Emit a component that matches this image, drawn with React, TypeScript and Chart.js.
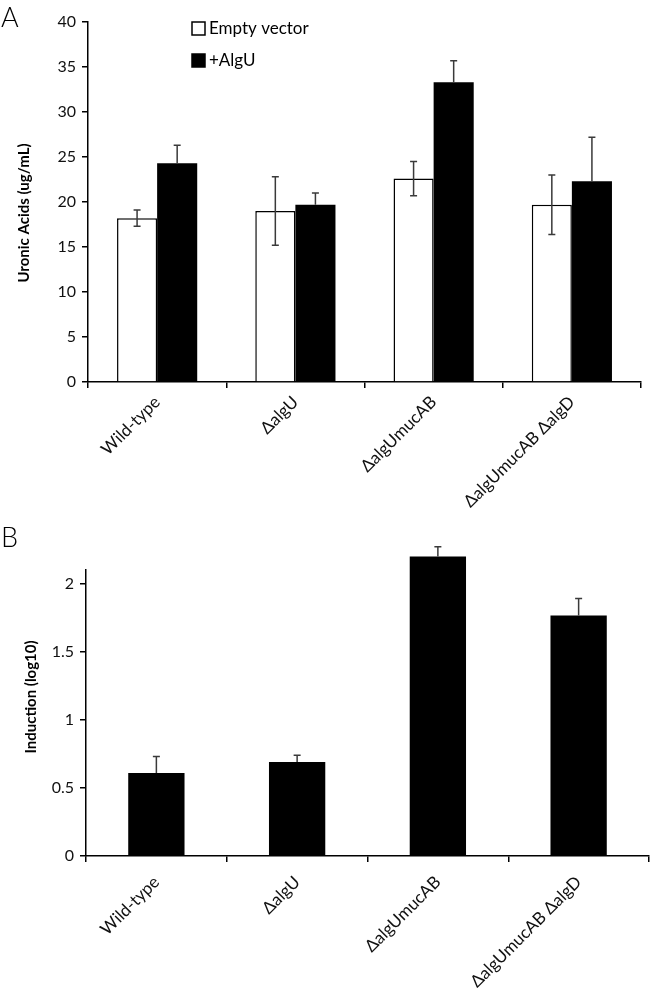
import React, { useEffect, useRef } from 'react';
import { Chart, registerables } from 'chart.js';

Chart.register(...registerables);

// ---------- data ----------
const strains = ['Wild-type', 'ΔalgU', 'ΔalgUmucAB', 'ΔalgUmucAB ΔalgD'];

const emptyVector = [18.2, 19.0, 22.6, 19.7];
const emptyVectorErr = [0.9, 3.8, 1.9, 3.3];
const plusAlgU = [24.3, 19.7, 33.3, 22.3];
const plusAlgUErr = [2.0, 1.3, 2.4, 4.9];

const induction = [0.61, 0.69, 2.2, 1.765];
const inductionErr = [0.12, 0.05, 0.07, 0.125];

const FONT = 'Lato, "Open Sans", sans-serif';

// ---------- plugins ----------
const errorBarsPlugin = {
  id: 'errorBars',
  afterDatasetsDraw(chart: any, _args: any, opts: any) {
    const { ctx } = chart;
    const yScale = chart.scales.y;
    ctx.save();
    ctx.strokeStyle = opts.color || '#404040';
    ctx.lineWidth = opts.lineWidth || 1.5;
    const cap = opts.capHalf || 3.5;
    chart.data.datasets.forEach((ds: any, di: number) => {
      const errs = opts.errors[di];
      if (!errs) return;
      const upOnly = opts.upOnly[di];
      const meta = chart.getDatasetMeta(di);
      meta.data.forEach((bar: any, i: number) => {
        const v = ds.data[i];
        const e = errs[i];
        const x = bar.x;
        const yTop = yScale.getPixelForValue(v + e);
        const yBot = upOnly ? yScale.getPixelForValue(v) : yScale.getPixelForValue(v - e);
        ctx.beginPath();
        ctx.moveTo(x, yTop);
        ctx.lineTo(x, yBot);
        ctx.moveTo(x - cap, yTop);
        ctx.lineTo(x + cap, yTop);
        if (!upOnly) {
          ctx.moveTo(x - cap, yBot);
          ctx.lineTo(x + cap, yBot);
        }
        ctx.stroke();
      });
    });
    ctx.restore();
  },
};

const panelTextPlugin = {
  id: 'panelText',
  afterDraw(chart: any, _args: any, opts: any) {
    const { ctx } = chart;
    ctx.save();
    ctx.fillStyle = '#000';
    ctx.font = `300 ${opts.labelSize}px ${FONT}`;
    ctx.textAlign = 'left';
    ctx.textBaseline = 'alphabetic';
    ctx.fillText(opts.label, opts.labelX, opts.labelY);
    ctx.font = `bold ${opts.titleSize}px ${FONT}`;
    ctx.translate(opts.titleX, opts.titleY);
    ctx.rotate(-Math.PI / 2);
    ctx.textAlign = 'center';
    ctx.textBaseline = 'middle';
    ctx.fillText(opts.title, 0, 0);
    ctx.restore();
  },
};

const insideLegendPlugin = {
  id: 'insideLegend',
  afterDraw(chart: any, _args: any, opts: any) {
    if (!opts || !opts.show) return;
    const { ctx, chartArea } = chart;
    const x0 = chartArea.left + opts.offsetX;
    const y0 = chartArea.top + opts.offsetY;
    const box = opts.box;
    ctx.save();
    chart.data.datasets.forEach((ds: any, i: number) => {
      const cy = y0 + i * opts.rowGap;
      ctx.fillStyle = ds.backgroundColor;
      ctx.fillRect(x0, cy - box / 2, box, box);
      ctx.strokeStyle = '#000';
      ctx.lineWidth = 1.5;
      ctx.strokeRect(x0, cy - box / 2, box, box);
      ctx.fillStyle = '#000';
      ctx.font = `${opts.fontSize}px ${FONT}`;
      ctx.textAlign = 'left';
      ctx.textBaseline = 'middle';
      ctx.fillText(ds.label, x0 + box + 4, cy);
    });
    ctx.restore();
  },
};

// ---------- configs ----------
function axisX(height: number, padding: number) {
  return {
    grid: { offset: true, drawOnChartArea: false, drawTicks: true, tickLength: 6, color: '#000', lineWidth: 1.5 },
    border: { color: '#000', width: 1.5 },
    ticks: {
      minRotation: 45,
      maxRotation: 45,
      autoSkip: false,
      padding,
      color: '#111',
      font: { family: FONT, size: 17 },
    },
    afterFit: (s: any) => {
      s.height = height;
    },
  };
}

function axisY(width: number, min: number, max: number, step: number) {
  return {
    min,
    max,
    grid: { drawOnChartArea: false, drawTicks: true, tickLength: 6, color: '#000', lineWidth: 1.5 },
    border: { color: '#000', width: 1.5 },
    ticks: {
      stepSize: step,
      includeBounds: false,
      padding: 6,
      color: '#111',
      font: { family: FONT, size: 16 },
      callback: (value: any) => `${value}`,
    },
    afterFit: (s: any) => {
      s.width = width;
    },
  };
}

function configA(): any {
  return {
    type: 'bar',
    data: {
      labels: strains,
      datasets: [
        {
          label: 'Empty vector',
          data: emptyVector,
          backgroundColor: '#ffffff',
          borderColor: '#000000',
          borderWidth: 1.5,
          categoryPercentage: 0.58,
          barPercentage: 1,
        },
        {
          label: '+AlgU',
          data: plusAlgU,
          backgroundColor: '#000000',
          borderColor: '#000000',
          borderWidth: 0,
          categoryPercentage: 0.58,
          barPercentage: 1,
        },
      ],
    },
    options: {
      responsive: false,
      animation: false,
      layout: { padding: { top: 22, right: 9, left: 0, bottom: 0 } },
      plugins: {
        legend: { display: false },
        tooltip: { enabled: false },
        errorBars: { errors: [emptyVectorErr, plusAlgUErr], upOnly: [false, true], color: '#3a3a3a', lineWidth: 1.5, capHalf: 3.5 },
        panelText: { label: 'A', labelX: 1, labelY: 27, labelSize: 27, title: 'Uronic Acids (ug/mL)', titleSize: 15, titleX: 24, titleY: 213 },
        insideLegend: { show: true, offsetX: 104, offsetY: 6.5, rowGap: 32, box: 13, fontSize: 17 },
      },
      scales: {
        x: axisX(158, 4),
        y: axisY(88, 0, 40, 5),
      },
    },
    plugins: [errorBarsPlugin, panelTextPlugin, insideLegendPlugin],
  };
}

function configB(): any {
  return {
    type: 'bar',
    data: {
      labels: strains,
      datasets: [
        {
          label: 'Induction',
          data: induction,
          backgroundColor: '#000000',
          borderColor: '#000000',
          borderWidth: 0,
          categoryPercentage: 0.4,
          barPercentage: 1,
          clip: false,
        },
      ],
    },
    options: {
      responsive: false,
      animation: false,
      layout: { padding: { top: 50, right: 1, left: 0, bottom: 0 } },
      plugins: {
        legend: { display: false },
        tooltip: { enabled: false },
        errorBars: { errors: [inductionErr], upOnly: [true], color: '#3a3a3a', lineWidth: 1.5, capHalf: 0 },
        panelText: { label: 'B', labelX: 1, labelY: 27, labelSize: 27, title: 'Induction (log10)', titleSize: 15, titleX: 31, titleY: 177 },
        insideLegend: { show: false },
      },
      scales: {
        x: axisX(135, 10),
        y: axisY(86, 0, 2.1, 0.5),
      },
    },
    plugins: [errorBarsPlugin, panelTextPlugin, insideLegendPlugin],
  };
}

function ChartCanvas({ make, top, width, height }: { make: () => any; top: number; width: number; height: number }) {
  const ref = useRef<HTMLCanvasElement>(null);
  useEffect(() => {
    const chart = new Chart(ref.current as HTMLCanvasElement, make());
    return () => chart.destroy();
  }, [make]);
  return (
    <canvas
      ref={ref}
      width={width}
      height={height}
      style={{ position: 'absolute', left: 0, top, width, height }}
    />
  );
}

export default function App() {
  return (
    <div style={{ position: 'absolute', left: 0, top: 0, width: 650, height: 991, background: '#fff', overflow: 'hidden' }}>
      <ChartCanvas make={configA} top={0} width={650} height={540} />
      <ChartCanvas make={configB} top={520} width={650} height={471} />
    </div>
  );
}
